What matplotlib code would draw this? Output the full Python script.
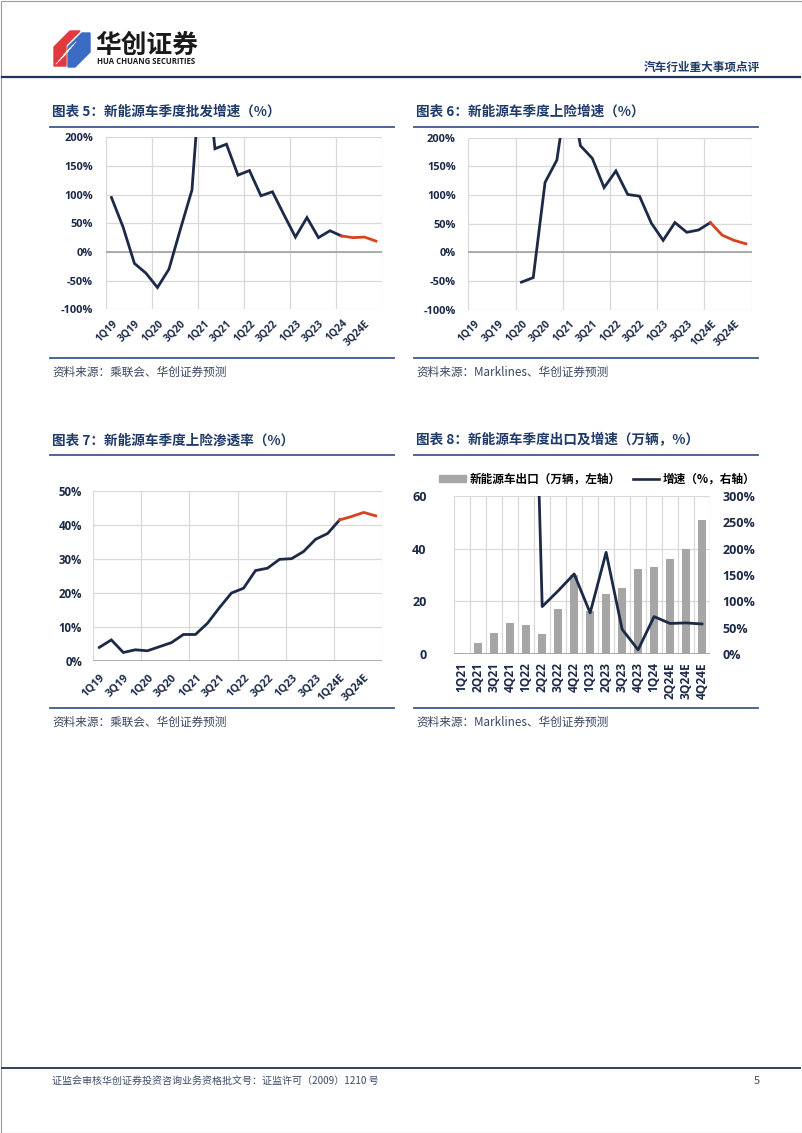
import numpy as np
import matplotlib
matplotlib.use('Agg')
import matplotlib.pyplot as plt
from matplotlib.patches import Polygon, Rectangle
from matplotlib.lines import Line2D

plt.rcParams['font.family'] = ['Noto Sans CJK SC', 'DejaVu Sans']
NUM_FONT = ['Open Sans', 'DejaVu Sans']

W, H = 802, 1133

NAVY = '#1c2a48'
RED = '#d6441f'
TITLE_C = '#1f3a68'
RULE_C = '#3a5a8e'
GRID_C = '#d9d9d9'
ZERO_C = '#a6a6a6'
BAR_C = '#a6a6a6'
TEXT_C = '#1c2a48'

# ---------- data ----------
quarters_a = ['1Q19', '2Q19', '3Q19', '4Q19', '1Q20', '2Q20', '3Q20', '4Q20',
              '1Q21', '2Q21', '3Q21', '4Q21', '1Q22', '2Q22', '3Q22', '4Q22',
              '1Q23', '2Q23', '3Q23', '4Q23', '1Q24', '2Q24E', '3Q24E', '4Q24E']
quarters_b = ['1Q19', '2Q19', '3Q19', '4Q19', '1Q20', '2Q20', '3Q20', '4Q20',
              '1Q21', '2Q21', '3Q21', '4Q21', '1Q22', '2Q22', '3Q22', '4Q22',
              '1Q23', '2Q23', '3Q23', '4Q23', '1Q24E', '2Q24E', '3Q24E', '4Q24E']

# 图表5 批发增速 (%)
wholesale_yoy = [95, 44, -20, -37, -62, -30, 40, 108, 380, 180, 188, 134,
                 142, 98, 105, 65, 26, 60, 25, 37, 28, 25, 26, 19]
# 图表6 上险增速 (%)
insure_yoy = [np.nan, np.nan, np.nan, np.nan, -52, -44, 122, 161, 300, 186, 164, 113,
              142, 101, 98, 51, 21, 52, 35, 39, 52, 30, 21, 15]
# 图表7 上险渗透率 (%)
penetration = [4.0, 6.2, 2.5, 3.3, 3.0, 4.2, 5.4, 7.8, 7.8, 11.1, 15.7, 20.0,
               21.4, 26.6, 27.3, 29.9, 30.1, 32.2, 35.8, 37.5, 41.5, 42.5, 43.7, 42.7]
forecast_from = 20

# 图表8 出口 (万辆) 及增速 (%)
export_q = ['1Q21', '2Q21', '3Q21', '4Q21', '1Q22', '2Q22', '3Q22', '4Q22',
            '1Q23', '2Q23', '3Q23', '4Q23', '1Q24', '2Q24E', '3Q24E', '4Q24E']
exports = [0.4, 4.0, 7.8, 11.9, 10.9, 7.7, 17.0, 30.0,
           16.5, 22.8, 25.1, 32.3, 32.9, 35.9, 39.9, 50.9]
export_yoy = [np.nan, np.nan, np.nan, np.nan, 1200, 90, 120, 152,
              78, 193, 47, 8, 71, 58, 59, 57]

fig = plt.figure(figsize=(W / 100, H / 100), dpi=100)

# page layer in pixel coords
bg = fig.add_axes([0, 0, 1, 1])
bg.set_xlim(0, W)
bg.set_ylim(H, 0)
bg.axis('off')


def px_axes(l, t, r, b):
    return fig.add_axes([l / W, 1 - b / H, (r - l) / W, (b - t) / H])


# header
bg.add_patch(Polygon([(54, 47), (70, 31), (80, 31), (66, 45), (66, 66), (54, 66)],
                     closed=True, color='#e03a3e'))
bg.add_patch(Polygon([(68, 47), (82, 33), (90, 33), (90, 52), (75, 67), (68, 67)],
                     closed=True, color='#3b6cc4'))
for k in range(5):
    bg.plot([56 + k * 2.5, 66 + k * 2.5], [64 - k * 3, 54 - k * 3], color='white', lw=0.5)
bg.text(95, 45, '华创证券', fontsize=18.5, fontweight='bold', color='#1a1a1a', va='center')
bg.text(97, 62, 'HUA CHUANG SECURITIES', fontsize=5.6, fontweight='bold',
        color='#1a1a1a', va='center', family=NUM_FONT)
bg.text(760, 67, '汽车行业重大事项点评', fontsize=8.4, fontweight='bold', color=TITLE_C,
        ha='right', va='center')
bg.plot([2, 800], [77, 77], color='#1f3458', lw=1.6)

# footer
bg.plot([2, 800], [1068, 1068], color='#2e4260', lw=1.4)
bg.text(52, 1081, '证监会审核华创证券投资咨询业务资格批文号：证监许可（2009）1210 号',
        fontsize=7.2, color='#3a4a6a', va='center')
bg.text(757, 1081, '5', fontsize=8, color='#3a4a6a', va='center', ha='center')
bg.add_patch(Rectangle((0.5, 0.5), W - 1, H - 1, fill=False, ec='#9a9a9a', lw=0.8))


def frame(x0, x1, y_title, y_rule, y_src_rule, title, source):
    bg.text(x0 + 2, y_title, title, fontsize=9.8, fontweight='bold', color=TITLE_C, va='center')
    bg.plot([x0, x1], [y_rule, y_rule], color=RULE_C, lw=1.3)
    bg.plot([x0, x1], [y_src_rule, y_src_rule], color=RULE_C, lw=1.3)
    bg.text(x0 + 2, y_src_rule + 14, source, fontsize=8.4, color='#3a4660', va='center')


frame(50, 394, 112, 127, 358, '图表 5：新能源车季度批发增速（%）', '资料来源：乘联会、华创证券预测')
frame(414, 758, 112, 127, 358, '图表 6：新能源车季度上险增速（%）', '资料来源：Marklines、华创证券预测')
frame(50, 394, 440, 455, 708, '图表 7：新能源车季度上险渗透率（%）', '资料来源：乘联会、华创证券预测')
frame(414, 758, 440, 455, 708, '图表 8：新能源车季度出口及增速（万辆，%）', '资料来源：Marklines、华创证券预测')


def quarterly_line(ax, labels, values, ylim, yticks, fmt, zero_line, xfs, yfs, ypad, xpad):
    x = np.arange(len(labels))
    v = np.array(values, dtype=float)
    ax.plot(x[:forecast_from + 1], v[:forecast_from + 1], color=NAVY, lw=2.0,
            solid_joinstyle='miter', zorder=3)
    ax.plot(x[forecast_from:], v[forecast_from:], color=RED, lw=2.0, zorder=3)
    ax.set_xlim(-0.5, len(labels) - 0.5)
    ax.set_ylim(*ylim)
    ax.set_yticks(yticks)
    ax.set_yticklabels([fmt(t) for t in yticks], fontsize=yfs, fontweight='bold',
                       color=TEXT_C, family=NUM_FONT)
    ax.set_xticks(x[::2])
    ax.set_xticklabels(labels[::2], rotation=45, ha='right', rotation_mode='anchor',
                       fontsize=xfs, fontweight='bold', color=TEXT_C, family=NUM_FONT)
    ax.set_xticks(np.arange(-0.5, len(labels), 4), minor=True)
    ax.tick_params(which='both', length=0)
    ax.tick_params(axis='y', pad=ypad)
    ax.tick_params(axis='x', pad=xpad)
    ax.grid(which='minor', axis='x', color=GRID_C, lw=0.9)
    ax.grid(which='major', axis='y', color=GRID_C, lw=0.9)
    ax.set_axisbelow(True)
    for s in ax.spines.values():
        s.set_visible(False)
    ax.axhline(zero_line, color=ZERO_C, lw=1.3, zorder=2)


pct = lambda t: f'{t:.0f}%'

ax5 = px_axes(105.7, 137.3, 381.7, 309.3)
quarterly_line(ax5, quarters_a, wholesale_yoy, (-100, 200), np.arange(-100, 201, 50),
               pct, 0, 7.4, 7.9, 9, 6)

ax6 = px_axes(468.3, 137.7, 751.7, 309.7)
quarterly_line(ax6, quarters_b, insure_yoy, (-100, 200), np.arange(-100, 201, 50),
               pct, 0, 7.4, 7.9, 9, 6)

ax7 = px_axes(93.3, 491, 381.7, 661)
quarterly_line(ax7, quarters_b, penetration, (0, 50), np.arange(0, 51, 10),
               pct, 0, 7.8, 8.3, 8, 8)

# ---------- 图表8 ----------
ax8 = px_axes(454.3, 496, 710, 654)
x8 = np.arange(len(export_q))
ax8.bar(x8, exports, width=0.5, color=BAR_C, zorder=2)
ax8.set_xlim(-0.5, len(export_q) - 0.5)
ax8.set_ylim(0, 60)
ax8.set_yticks([0, 20, 40, 60])
ax8.set_yticklabels(['0', '20', '40', '60'], fontsize=9, fontweight='bold',
                    color=TEXT_C, family=NUM_FONT)
ax8.set_xticks(x8)
ax8.set_xticklabels(export_q, rotation=90, ha='center', va='top', fontsize=8.6,
                    fontweight='bold', color=TEXT_C, family=NUM_FONT)
ax8.set_xticks(np.arange(-0.5, len(export_q), 1), minor=True)
ax8.tick_params(which='both', length=0)
ax8.tick_params(axis='y', pad=20)
ax8.tick_params(axis='x', pad=6)
ax8.grid(which='minor', axis='x', color=GRID_C, lw=0.9)
ax8.grid(which='major', axis='y', color=GRID_C, lw=0.9)
ax8.set_axisbelow(True)
for s in ax8.spines.values():
    s.set_visible(False)
ax8.axhline(0, color=ZERO_C, lw=1.3, zorder=3)

ax8r = ax8.twinx()
ax8r.plot(x8, export_yoy, color=NAVY, lw=2.0, zorder=4)
ax8r.set_ylim(0, 300)
ax8r.set_yticks(np.arange(0, 301, 50))
ax8r.set_yticklabels([pct(t) for t in np.arange(0, 301, 50)], fontsize=9,
                     fontweight='bold', color=TEXT_C, family=NUM_FONT)
ax8r.tick_params(length=0, pad=9)
for s in ax8r.spines.values():
    s.set_visible(False)

handles = [Rectangle((0, 0), 1, 1, color=BAR_C), Line2D([], [], color=NAVY, lw=1.9)]
ax8.legend(handles, ['新能源车出口（万辆，左轴）', '增速（%，右轴）'], loc='center',
           bbox_to_anchor=(0.56, 1.108), ncol=2, frameon=False,
           handlelength=2.3, handleheight=0.6, columnspacing=1.0, handletextpad=0.3,
           prop={'weight': 'bold', 'size': 8.4})

fig.savefig('out.png', dpi=100, facecolor='white')
